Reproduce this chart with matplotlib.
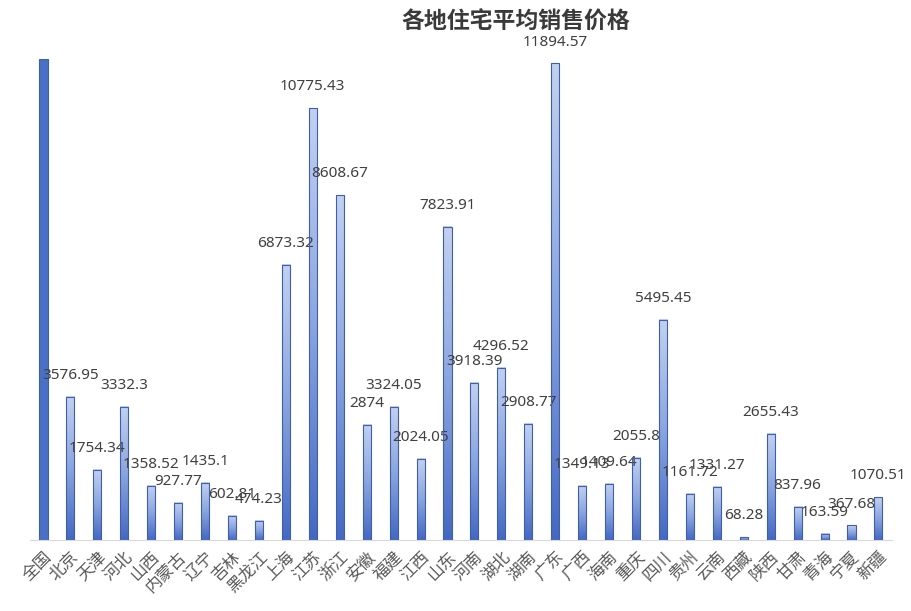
"""Bar chart of average residential sale price by region."""

import matplotlib

matplotlib.use("Agg")
import matplotlib.pyplot as plt
import numpy as np
from matplotlib.colors import LinearSegmentedColormap
from matplotlib.patches import Rectangle

plt.rcParams["font.family"] = ["Noto Sans CJK SC", "DejaVu Sans"]

regions = [
    "全国", "北京", "天津", "河北", "山西", "内蒙古", "辽宁", "吉林", "黑龙江", "上海",
    "江苏", "浙江", "安徽", "福建", "江西", "山东", "河南", "湖北", "湖南", "广东",
    "广西", "海南", "重庆", "四川", "贵州", "云南", "西藏", "陕西", "甘肃", "青海",
    "宁夏", "新疆",
]
# national bar runs off the top of the axis, its label is not shown
prices = [
    12000, 3576.95, 1754.34, 3332.3, 1358.52, 927.77, 1435.1, 602.81, 474.23, 6873.32,
    10775.43, 8608.67, 2874, 3324.05, 2024.05, 7823.91, 3918.39, 4296.52, 2908.77, 11894.57,
    1349.13, 1409.64, 2055.8, 5495.45, 1161.72, 1331.27, 68.28, 2655.43, 837.96, 163.59,
    367.68, 1070.51,
]
labels = [str(p) for p in prices]
labels[0] = ""

title = "各地住宅平均销售价格"

fig = plt.figure(figsize=(9.11, 6.11), dpi=100)
ax = fig.add_axes([0.033, 0.116, 0.946, 0.787])

width = 0.3
grad = LinearSegmentedColormap.from_list("bar", ["#4468c2", "#8aa5df", "#c3d1f1"])
g = np.linspace(0, 1, 256).reshape(-1, 1)

x = np.arange(len(regions))
for i, (xi, p) in enumerate(zip(x, prices)):
    if i == 0:
        ax.add_patch(Rectangle((xi - width / 2, 0), width, p,
                               facecolor="#4a70c6", edgecolor="#3d5fae", lw=0.8))
        continue
    ax.imshow(g, cmap=grad, origin="lower", aspect="auto",
              extent=[xi - width / 2, xi + width / 2, 0, p], zorder=2)
    ax.add_patch(Rectangle((xi - width / 2, 0), width, p, facecolor="none",
                           edgecolor="#3d5fae", lw=0.8, zorder=3))
    ax.annotate(labels[i], (xi, p), xytext=(0, 10), textcoords="offset points",
                ha="center", va="bottom", fontsize=11, color="#404040",
                family=["Noto Sans", "DejaVu Sans"], annotation_clip=False)

ax.set_xlim(-0.5, len(regions) - 0.5)
ax.set_ylim(0, 12000)
ax.set_xticks(x)
ax.set_xticklabels(regions, rotation=45, ha="right", rotation_mode="anchor",
                   fontsize=12, color="#595959")
ax.tick_params(axis="x", length=0, pad=6)
ax.set_yticks([])
for side in ["top", "right", "left"]:
    ax.spines[side].set_visible(False)
ax.spines["bottom"].set_color("#d9d9d9")

fig.text(0.566, 0.964, title, ha="center", va="center", fontsize=16.5,
         fontweight="bold", color="#3a3a3a")

fig.savefig("out.png", dpi=100)
